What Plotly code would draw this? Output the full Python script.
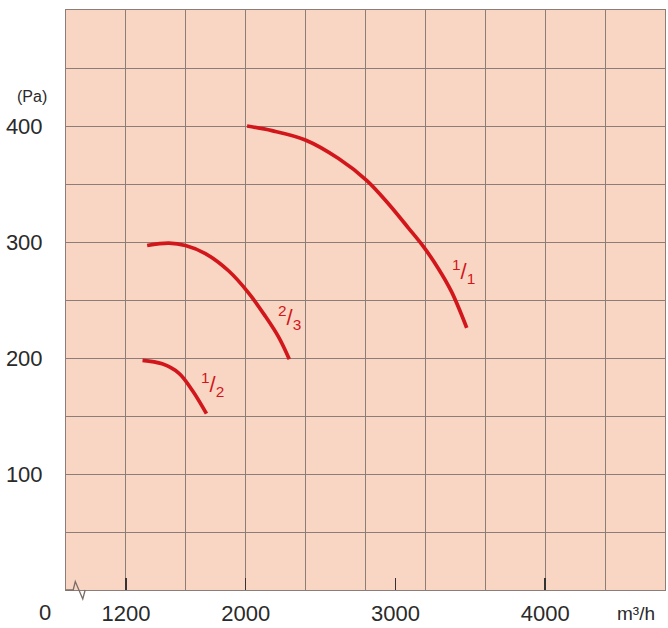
import plotly.graph_objects as go

# ---- data ----
flow_1_1 = [2009, 2175, 2398, 2620, 2809, 2953, 3087, 3187, 3287, 3375, 3476]
pres_1_1 = [400, 396, 388, 372, 353, 333, 312, 296, 277, 257, 226]

flow_2_3 = [1342, 1487, 1598, 1731, 1887, 2020, 2131, 2220, 2291]
pres_2_3 = [297, 299, 297, 290, 275, 256, 236, 218, 199]

flow_1_2 = [1311, 1442, 1553, 1644, 1738]
pres_1_2 = [198, 195, 187, 172, 152]

curve_labels = ["<sup>1</sup>/<sub>1</sub>", "<sup>2</sup>/<sub>3</sub>", "<sup>1</sup>/<sub>2</sub>"]
label_x = [3453, 2293, 1780]
label_y = [275, 235, 177]

x_tickvals = [1200, 2000, 3000, 4000]
x_ticktext = ["1200", "2000", "3000", "4000"]
y_tickvals = [0, 50, 100, 150, 200, 250, 300, 350, 400, 450, 500]
y_ticktext = ["", "", "100", "", "200", "", "300", "", "400", "", ""]

RED = "#D2171C"
GRID = "#8C7D77"
BG = "#F9D6C3"
TXT = "#2a2a2a"
FONT = "Liberation Sans, Arial, sans-serif"

fig = go.Figure()
for fx, py in [(flow_1_1, pres_1_1), (flow_2_3, pres_2_3), (flow_1_2, pres_1_2)]:
    fig.add_trace(go.Scatter(x=fx, y=py, mode="lines",
                             line=dict(color=RED, width=3.7, shape="spline", smoothing=1.0),
                             showlegend=False, hoverinfo="skip"))

# invisible trace on overlay axis to keep it active
fig.add_trace(go.Scatter(x=[800], y=[0], xaxis="x2", mode="markers", marker=dict(opacity=0),
                         showlegend=False, hoverinfo="skip"))

for t, lx, ly in zip(curve_labels, label_x, label_y):
    fig.add_annotation(x=lx, y=ly, text=t, showarrow=False, font=dict(color=RED, size=22, family=FONT))

fig.add_annotation(xref="paper", yref="paper", x=-0.035, y=-0.038, text="0", showarrow=False,
                   xanchor="center", yanchor="middle", font=dict(size=22, color=TXT, family=FONT))
fig.add_annotation(xref="paper", yref="paper", x=0.952, y=-0.040, text="m³/h", showarrow=False,
                   xanchor="center", yanchor="middle", font=dict(size=19, color=TXT, family=FONT))
fig.add_annotation(xref="paper", yref="paper", x=-0.056, y=0.851, text="(Pa)", showarrow=False,
                   xanchor="center", yanchor="middle", font=dict(size=16, color=TXT, family=FONT))

# axis break zigzag on the bottom axis line
fig.add_shape(type="path", xref="paper", yref="paper",
              path="M 0,0 L 0.012,0 L 0.0155,0.0145 L 0.028,-0.0155 L 0.032,0",
              line=dict(color="#7a6d68", width=1.3))

fig.update_layout(
    width=668, height=628,
    margin=dict(l=66, r=2, t=10, b=33),
    paper_bgcolor="white", plot_bgcolor=BG,
    font=dict(family=FONT, color=TXT, size=22),
    xaxis=dict(range=[800, 4800], showgrid=True, dtick=400, tick0=0, gridcolor=GRID, gridwidth=1,
               showticklabels=False, ticks="", zeroline=False, showline=True, linecolor=GRID,
               mirror=True, fixedrange=True),
    xaxis2=dict(range=[800, 4800], overlaying="x", side="bottom", showgrid=False, zeroline=False,
                tickvals=x_tickvals, ticktext=x_ticktext, ticks="inside", ticklen=12, tickwidth=1.5,
                tickcolor="#333", tickfont=dict(size=22, color=TXT), ticklabelstandoff=8,
                fixedrange=True),
    yaxis=dict(range=[0, 500], tickvals=y_tickvals, ticktext=y_ticktext, showgrid=True, gridcolor=GRID,
               gridwidth=1, ticks="", zeroline=False, showline=True, linecolor=GRID, mirror=True,
               tickfont=dict(size=22, color=TXT), ticklabelstandoff=18, fixedrange=True),
)

fig.write_html("out.html", config={"displayModeBar": False, "staticPlot": True},
               post_script="document.body.style.margin='0';document.body.style.overflow='hidden';")
